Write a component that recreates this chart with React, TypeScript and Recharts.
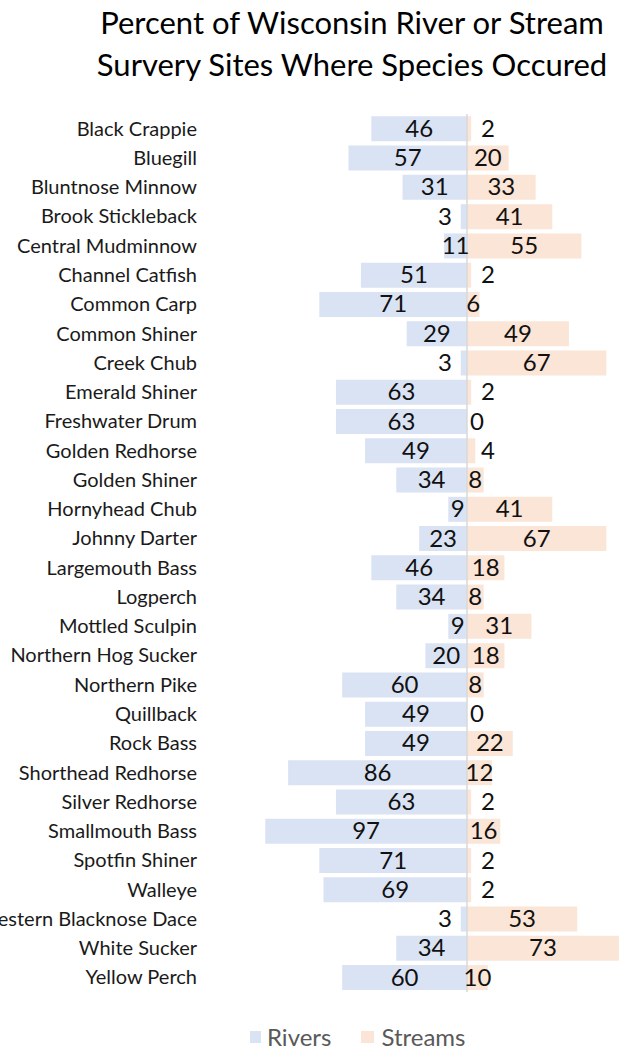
import React from "react";
import {
  BarChart,
  Bar,
  XAxis,
  YAxis,
  ReferenceLine,
  LabelList,
} from "recharts";

const species = [
  "Black Crappie",
  "Bluegill",
  "Bluntnose Minnow",
  "Brook Stickleback",
  "Central Mudminnow",
  "Channel Catfish",
  "Common Carp",
  "Common Shiner",
  "Creek Chub",
  "Emerald Shiner",
  "Freshwater Drum",
  "Golden Redhorse",
  "Golden Shiner",
  "Hornyhead Chub",
  "Johnny Darter",
  "Largemouth Bass",
  "Logperch",
  "Mottled Sculpin",
  "Northern Hog Sucker",
  "Northern Pike",
  "Quillback",
  "Rock Bass",
  "Shorthead Redhorse",
  "Silver Redhorse",
  "Smallmouth Bass",
  "Spotfin Shiner",
  "Walleye",
  "Western Blacknose Dace",
  "White Sucker",
  "Yellow Perch",
];

const rivers = [
  46, 57, 31, 3, 11, 51, 71, 29, 3, 63, 63, 49, 34, 9, 23, 46, 34, 9, 20, 60,
  49, 49, 86, 63, 97, 71, 69, 3, 34, 60,
];

const streams = [
  2, 20, 33, 41, 55, 2, 6, 49, 67, 2, 0, 4, 8, 41, 67, 18, 8, 31, 18, 8, 0, 22,
  12, 2, 16, 2, 2, 53, 73, 10,
];

const RIVER_COLOR = "#dae3f3";
const STREAM_COLOR = "#fbe5d6";
const FONT = "Lato, 'Open Sans', sans-serif";
const VALUE_SIZE = 24;

// rivers are drawn to the left of the zero line
const rows = species.map((name, i) => ({
  name,
  rivers: -rivers[i],
  streams: streams[i],
}));

const CategoryTick = (props: any) => {
  const { y, payload } = props;
  return (
    <text
      x={197}
      y={y}
      dy={7}
      textAnchor="end"
      fontFamily={FONT}
      fontSize={20}
      fill="#1a1a1a"
    >
      {payload.value}
    </text>
  );
};

const valueText = (cx: number, cy: number, v: number, key?: string) => (
  <text
    key={key}
    x={cx}
    y={cy}
    dy={8}
    textAnchor="middle"
    fontFamily={FONT}
    fontSize={VALUE_SIZE}
    fill="#111"
  >
    {v}
  </text>
);

// value label centred in the bar; very short bars get it pushed off the axis
const makeLabel = (side: "left" | "right") => (props: any) => {
  const { x, y, width, height, value, index } = props;
  const v = Math.abs(Number(value));
  const left = Math.min(x, x + width);
  const w = Math.abs(width);
  const axisX = side === "left" ? left + w : left;
  const cy = y + height / 2;
  let cx = left + w / 2;
  if (w < 10) {
    cx = side === "left" ? axisX - 22 : axisX + 21;
  }
  // zero-width stream bars get no label of their own, so add it here
  if (side === "left" && streams[index] === 0) {
    return (
      <g>
        {valueText(cx, cy, v, "r")}
        {valueText(axisX + 10, cy, 0, "s")}
      </g>
    );
  }
  return valueText(cx, cy, v);
};

export default function App() {
  return (
    <div
      style={{
        position: "absolute",
        left: 0,
        top: 0,
        width: 632,
        height: 1051,
        background: "#fff",
        fontFamily: FONT,
        overflow: "hidden",
      }}
    >
      <div
        style={{
          position: "absolute",
          left: 0,
          top: 1,
          width: 704,
          textAlign: "center",
          fontSize: 31,
          lineHeight: "42px",
          color: "#000",
        }}
      >
        Percent of Wisconsin River or Stream
        <br />
        Survery Sites Where Species Occured
      </div>

      <div style={{ position: "absolute", left: 0, top: 0 }}>
        <BarChart
          width={632}
          height={1020}
          data={rows}
          layout="vertical"
          stackOffset="sign"
          barCategoryGap="8%"
          margin={{ top: 114, right: 9, bottom: 28, left: 0 }}
        >
          <XAxis type="number" domain={[-100, 75]} hide />
          <YAxis
            type="category"
            dataKey="name"
            width={259}
            axisLine={false}
            tickLine={false}
            interval={0}
            tick={<CategoryTick />}
          />
          <Bar
            dataKey="rivers"
            stackId="s"
            fill={RIVER_COLOR}
            isAnimationActive={false}
          >
            <LabelList dataKey="rivers" content={makeLabel("left")} />
          </Bar>
          <Bar
            dataKey="streams"
            stackId="s"
            fill={STREAM_COLOR}
            isAnimationActive={false}
          >
            <LabelList dataKey="streams" content={makeLabel("right")} />
          </Bar>
          <ReferenceLine x={0} stroke="#d9d9d9" strokeWidth={1.5} />
        </BarChart>
      </div>

      <div
        style={{
          position: "absolute",
          left: 250,
          top: 1025,
          display: "flex",
          alignItems: "center",
          fontSize: 24,
          lineHeight: "24px",
          color: "#595959",
        }}
      >
        <span
          style={{ width: 11, height: 12, background: RIVER_COLOR, marginRight: 6 }}
        />
        <span style={{ marginRight: 30 }}>Rivers</span>
        <span
          style={{ width: 13, height: 12, background: STREAM_COLOR, marginRight: 7 }}
        />
        <span>Streams</span>
      </div>
    </div>
  );
}
